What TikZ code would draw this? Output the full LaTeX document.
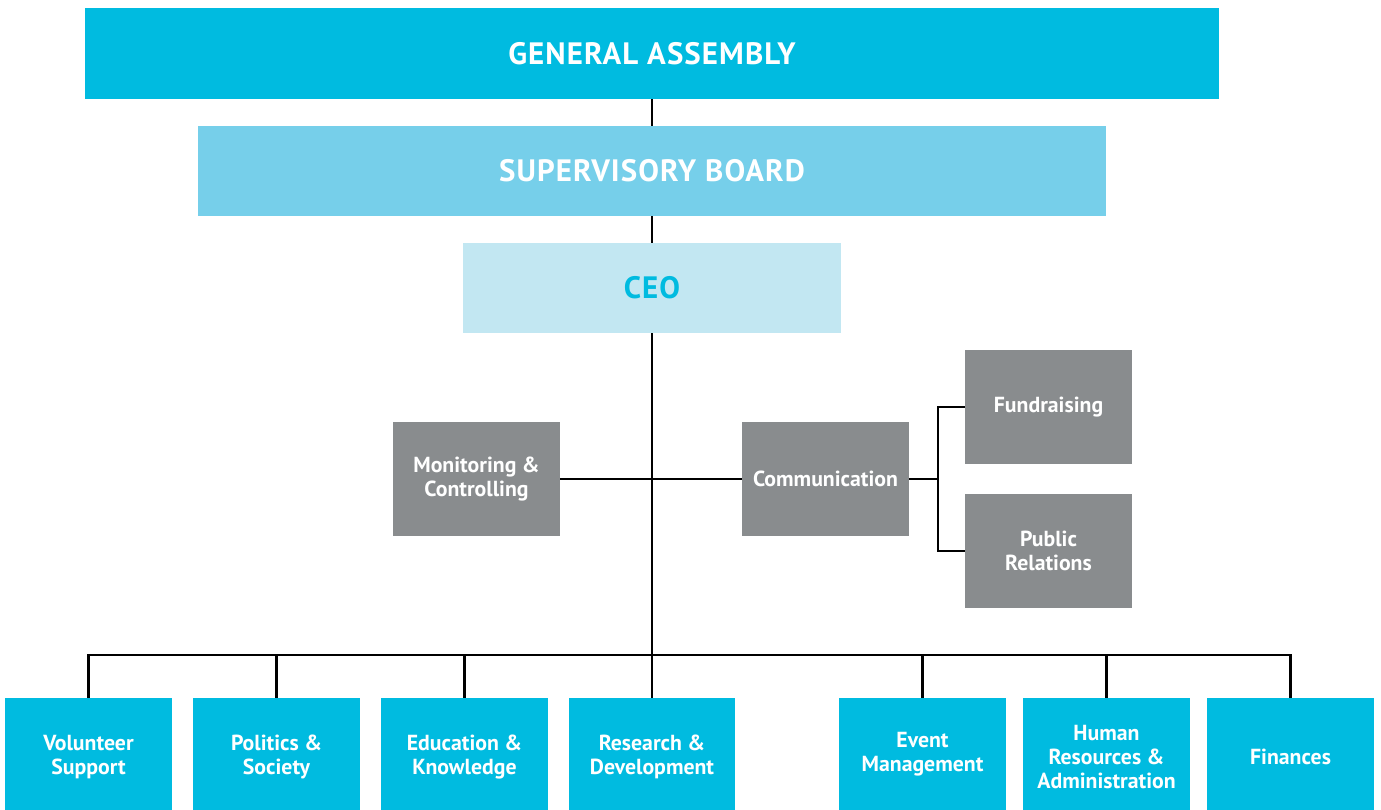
\documentclass[tikz,border=0pt]{standalone}
\usepackage{fontspec}
\setmainfont{PT Sans}
\usetikzlibrary{positioning}

\definecolor{orgcyan}{RGB}{0,187,224}
\definecolor{orglight}{RGB}{118,207,234}
\definecolor{orgpale}{RGB}{194,231,242}
\definecolor{orggray}{RGB}{137,140,142}

\begin{document}
\begin{tikzpicture}[x=0.02cm, y=-0.02cm,
        box/.style={inner sep=0pt, align=center, text=white,
            font=\bfseries\fontsize{12.4}{13.8}\selectfont},
        board/.style={box, minimum height=1.8cm,
            font=\bfseries\fontsize{17.6}{20}\selectfont\addfontfeatures{LetterSpace=3.5}},
        unit/.style={box, fill=orggray, minimum width=3.34cm, minimum height=2.28cm},
        dept/.style={box, fill=orgcyan, minimum width=3.34cm, minimum height=2.36cm},
        link/.style={line width=1.5pt, black}]
    \useasboundingbox (0,0) rectangle (1381,810);

    % governance
    \node[board, fill=orgcyan, minimum width=22.7cm, minimum height=1.82cm] (ga) at (652,53.5) {GENERAL ASSEMBLY};
    \node[board, fill=orglight, minimum width=18.16cm] (sb) at (652,171) {SUPERVISORY BOARD};
    \node[board, fill=orgpale, text=orgcyan, minimum width=7.58cm] (ceo) at (652,288) {CEO};

    % staff units
    \node[unit] (mc) at (476.5,479) {Monitoring \&\\Controlling};
    \node[unit] (com) at (825.5,479) {Communication};
    \node[unit] (fund) at (1048.5,407) {Fundraising};
    \node[unit] (pr) at (1048.5,551) {Public\\Relations};

    % departments (boxes run past the lower edge)
    \node[dept] (vs) at (88.5,757) {Volunteer\\Support};
    \node[dept] (ps) at (276.5,757) {Politics \&\\Society};
    \node[dept] (ek) at (464.5,757) {Education \&\\Knowledge};
    \node[dept] (rd) at (652,757) {Research \&\\Development};
    \node[dept] (em) at (922.5,757) {Event\\Management\\[-8pt]};
    \node[dept] (hr) at (1106.5,757) {Human\\Resources \&\\Administration};
    \node[dept] (fin) at (1290.5,757) {Finances};

    \coordinate (bus) at (652,655);
    \coordinate (br) at (938,479);

    \draw[link] (ga) -- (sb);
    \draw[link] (sb) -- (ceo);
    \draw[link] (ceo) -- (rd);
    \draw[link] (mc) -- (com);
    \draw[link] (com) -- (br);
    \draw[link] (fund.west) -| (br) |- (pr.west);
    \draw[link] (vs.north) |- (bus) -| (fin.north);
    \foreach \d in {ps,ek,em,hr}
        \draw[link] (\d.north) -- (\d.north |- bus);
\end{tikzpicture}
\end{document}
